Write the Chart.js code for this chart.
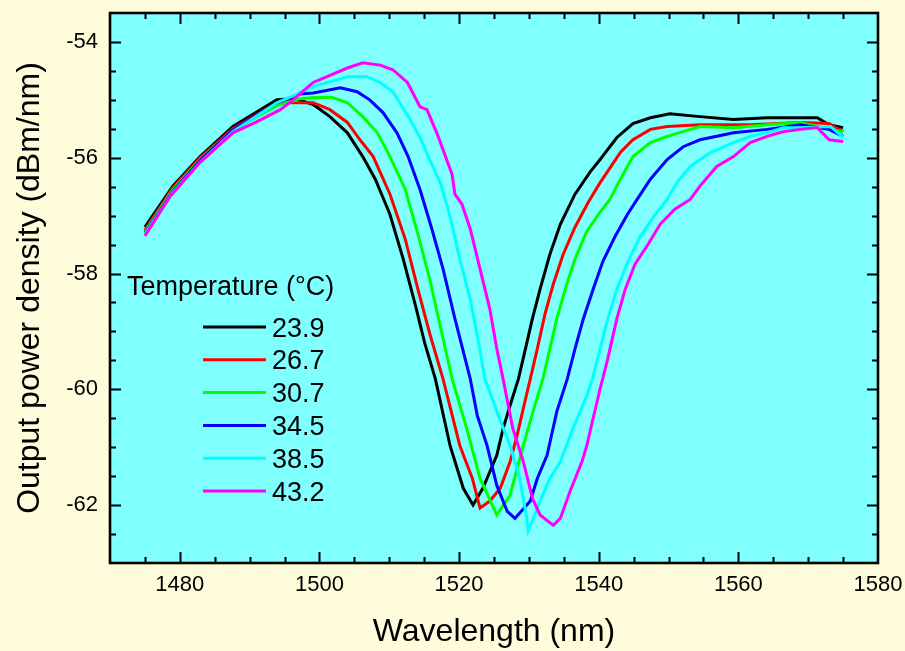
<!DOCTYPE html>
<html lang="en">
<head>
  <meta charset="UTF-8" />
  <title>Output power density vs wavelength</title>
  <script src="https://cdn.jsdelivr.net/npm/chart.js"></script>
  <style>
    html, body { margin: 0; padding: 0; background: #FFFCDC; }
    #wrap { width: 905px; height: 651px; }
  </style>
</head>
<body>
  <div id="wrap"><canvas id="spectrum" width="905" height="651"></canvas></div>

  <script>
    // temperatures (legend) and tick labels
    const temps = ['23.9', '26.7', '30.7', '34.5', '38.5', '43.2'];
    const xTickLabels = [1480, 1500, 1520, 1540, 1560, 1580];
    const yTickLabels = [-54, -56, -58, -60, -62];

    // wavelength (nm) / output power density (dBm/nm)
    const wl239 = [1475, 1479, 1482.9, 1487.6, 1493.9, 1496.5, 1499.1, 1501.5, 1504.0, 1506.2, 1508.0, 1510.1, 1512.0, 1513.7, 1515.1, 1516.6, 1518.7, 1520.6, 1522.0, 1523.4, 1525.4, 1526.3, 1527.3, 1528.5, 1529.5, 1530.5, 1531.6, 1533.0, 1534.5, 1536.6, 1538.8, 1540.2, 1542.6, 1544.9, 1547.4, 1550.2, 1554.5, 1559.3, 1564.1, 1568.9, 1571.3, 1573.0, 1575];
    const p239 = [-57.20, -56.49, -55.98, -55.46, -55.00, -54.98, -55.08, -55.29, -55.57, -55.98, -56.37, -56.98, -57.75, -58.53, -59.21, -59.82, -60.97, -61.71, -62.00, -61.71, -61.14, -60.68, -60.28, -59.82, -59.30, -58.78, -58.27, -57.67, -57.15, -56.63, -56.24, -56.03, -55.65, -55.41, -55.31, -55.24, -55.29, -55.34, -55.31, -55.31, -55.31, -55.43, -55.48];

    const wl267 = [1475, 1479, 1482.9, 1487.6, 1493.9, 1497.2, 1499.1, 1501.5, 1504.0, 1505.8, 1507.7, 1510.1, 1512.3, 1514.1, 1515.8, 1517.7, 1520.1, 1521.9, 1523.0, 1524.4, 1525.9, 1527.3, 1528.3, 1529.2, 1530.2, 1531.2, 1532.3, 1533.5, 1534.9, 1536.6, 1538.5, 1540.2, 1543.1, 1544.9, 1547.4, 1549.8, 1554.5, 1561.7, 1568.9, 1573.0, 1575];
    const p267 = [-57.25, -56.52, -56.00, -55.50, -55.05, -55.05, -55.05, -55.17, -55.39, -55.69, -55.98, -56.63, -57.41, -58.27, -59.04, -59.82, -60.97, -61.54, -62.05, -61.93, -61.71, -61.25, -60.80, -60.33, -59.82, -59.30, -58.70, -58.18, -57.67, -57.20, -56.77, -56.43, -55.91, -55.69, -55.51, -55.46, -55.43, -55.43, -55.39, -55.41, -55.55];

    const wl307 = [1475, 1479, 1482.9, 1487.6, 1493.9, 1497.2, 1499.1, 1501.9, 1504.0, 1506.2, 1508.3, 1510.1, 1512.3, 1514.1, 1515.8, 1517.4, 1519.0, 1521.1, 1523.0, 1525.4, 1527.3, 1528.3, 1529.2, 1530.6, 1532.0, 1533.0, 1534.0, 1535.2, 1536.6, 1538.3, 1540.2, 1541.6, 1543.1, 1544.9, 1547.4, 1549.8, 1554.5, 1559.3, 1564.1, 1568.9, 1573.0, 1575];
    const p307 = [-57.28, -56.55, -56.03, -55.52, -55.10, -54.98, -54.96, -54.96, -55.05, -55.29, -55.57, -55.98, -56.55, -57.32, -58.10, -58.96, -59.82, -60.68, -61.54, -62.17, -61.83, -61.37, -60.97, -60.38, -59.82, -59.30, -58.78, -58.27, -57.75, -57.27, -56.94, -56.72, -56.37, -55.98, -55.74, -55.63, -55.46, -55.48, -55.43, -55.39, -55.51, -55.55];

    const wl345 = [1475, 1479, 1482.9, 1487.6, 1493.9, 1497.2, 1499.1, 1503.0, 1505.4, 1507.2, 1509.1, 1511.1, 1512.7, 1514.4, 1516.1, 1517.7, 1519.4, 1521.6, 1522.6, 1524.0, 1525.4, 1526.9, 1528.0, 1530.2, 1531.2, 1532.6, 1534.0, 1535.5, 1536.6, 1537.8, 1539.2, 1540.6, 1542.3, 1544.1, 1545.5, 1547.4, 1549.8, 1552.1, 1554.5, 1559.3, 1564.1, 1568.9, 1573.0, 1575];
    const p345 = [-57.30, -56.58, -56.05, -55.52, -55.05, -54.90, -54.88, -54.79, -54.86, -55.00, -55.22, -55.57, -55.98, -56.55, -57.23, -57.92, -58.78, -59.82, -60.45, -60.97, -61.66, -62.11, -62.23, -61.93, -61.54, -61.14, -60.38, -59.82, -59.30, -58.78, -58.27, -57.79, -57.37, -56.98, -56.72, -56.37, -56.03, -55.81, -55.69, -55.57, -55.51, -55.43, -55.51, -55.63];

    const wl385 = [1475, 1479, 1482.9, 1487.6, 1493.9, 1497.2, 1499.1, 1504.0, 1506.8, 1508.7, 1510.5, 1512.6, 1514.4, 1515.6, 1517.4, 1518.8, 1520.1, 1521.6, 1522.7, 1523.7, 1525.4, 1527.3, 1528.7, 1529.7, 1529.9, 1531.6, 1533.0, 1534.5, 1536.3, 1538.3, 1539.1, 1540.2, 1541.3, 1542.6, 1544.2, 1545.9, 1548.1, 1549.8, 1551.2, 1553.1, 1556.0, 1559.3, 1561.7, 1564.1, 1566.4, 1568.9, 1573.2, 1575];
    const p385 = [-57.32, -56.60, -56.08, -55.55, -55.05, -54.88, -54.77, -54.60, -54.60, -54.70, -54.86, -55.26, -55.65, -55.98, -56.46, -57.06, -57.75, -58.44, -59.13, -59.82, -60.38, -60.97, -61.54, -62.23, -62.45, -61.93, -61.54, -61.25, -60.68, -60.11, -59.82, -59.30, -58.78, -58.27, -57.79, -57.37, -56.98, -56.72, -56.43, -56.15, -55.91, -55.74, -55.63, -55.57, -55.48, -55.48, -55.46, -55.65];

    const wl432 = [1475, 1478.6, 1482.9, 1487.6, 1491.0, 1494.4, 1496.2, 1499.1, 1504.0, 1506.2, 1508.7, 1510.5, 1512.6, 1514.4, 1515.4, 1516.8, 1517.7, 1519.0, 1519.4, 1520.4, 1521.6, 1523.0, 1524.4, 1525.4, 1526.3, 1527.7, 1529.2, 1530.5, 1531.6, 1533.5, 1534.5, 1535.9, 1537.6, 1538.3, 1539.2, 1540.2, 1541.3, 1542.6, 1543.8, 1545.2, 1547.1, 1548.8, 1550.9, 1553.1, 1554.5, 1556.9, 1559.3, 1561.7, 1564.1, 1566.4, 1568.9, 1571.3, 1573.0, 1575];
    const p432 = [-57.35, -56.67, -56.08, -55.57, -55.38, -55.17, -55.00, -54.70, -54.45, -54.36, -54.40, -54.48, -54.70, -55.12, -55.17, -55.57, -55.86, -56.29, -56.63, -56.80, -57.23, -57.92, -58.61, -59.30, -59.82, -60.68, -61.25, -61.88, -62.17, -62.35, -62.23, -61.76, -61.25, -60.97, -60.50, -59.99, -59.47, -58.78, -58.27, -57.84, -57.49, -57.15, -56.89, -56.72, -56.49, -56.15, -55.98, -55.74, -55.63, -55.55, -55.51, -55.48, -55.69, -55.72];

    const wavelengths = [wl239, wl267, wl307, wl345, wl385, wl432];
    const powers = [p239, p267, p307, p345, p385, p432];
    const lineColors = ['#000000', '#FF0000', '#00FF00', '#0000FF', '#00FFFF', '#FF00FF'];

    const FONT = "'Liberation Sans', Arial, sans-serif";

    const datasets = temps.map((t, i) => ({
      label: t,
      data: wavelengths[i].map((w, k) => ({ x: w, y: powers[i][k] })),
      borderColor: lineColors[i],
      borderWidth: 3,
      pointRadius: 0,
      tension: 0,
      order: temps.length - i
    }));

    // cream page, cyan plot area
    const backdrop = {
      id: 'backdrop',
      beforeDraw(chart) {
        const { ctx, chartArea: a } = chart;
        ctx.save();
        ctx.fillStyle = '#FFFCDC';
        ctx.fillRect(0, 0, chart.width, chart.height);
        ctx.fillStyle = '#80FFFF';
        ctx.fillRect(a.left, a.top, a.right - a.left, a.bottom - a.top);
        ctx.restore();
      }
    };

    // inward ticks on all four sides plus the frame
    const frame = {
      id: 'frame',
      afterDatasetsDraw(chart) {
        const { ctx, chartArea: a, scales } = chart;
        const x = scales.x, y = scales.y;
        ctx.save();
        ctx.strokeStyle = '#000';
        ctx.lineWidth = 2;
        ctx.beginPath();
        for (let v = x.min + 5; v < x.max; v += 5) {
          const px = Math.round(x.getPixelForValue(v)) + 0.5;
          const len = v % 20 === 0 ? 11 : 6;
          ctx.moveTo(px, a.bottom); ctx.lineTo(px, a.bottom - len);
          ctx.moveTo(px, a.top); ctx.lineTo(px, a.top + len);
        }
        for (let v = y.min + 0.5; v < y.max; v += 0.5) {
          const py = Math.round(y.getPixelForValue(v)) + 0.5;
          const len = Math.abs(v % 2) < 1e-6 ? 11 : 6;
          ctx.moveTo(a.left, py); ctx.lineTo(a.left + len, py);
          ctx.moveTo(a.right, py); ctx.lineTo(a.right - len, py);
        }
        ctx.stroke();
        ctx.lineWidth = 2.6;
        ctx.strokeRect(a.left, a.top, a.right - a.left, a.bottom - a.top);
        ctx.restore();
      }
    };

    // legend with title, inside the plot area
    const insideLegend = {
      id: 'insideLegend',
      afterDatasetsDraw(chart) {
        const { ctx } = chart;
        ctx.save();
        ctx.fillStyle = '#000';
        ctx.font = '27px ' + FONT;
        ctx.textBaseline = 'alphabetic';
        ctx.textAlign = 'left';
        ctx.fillText('Temperature (°C)', 127, 295);
        chart.data.datasets.forEach((ds, i) => {
          const ly = 327 + i * 32.8;
          ctx.strokeStyle = ds.borderColor;
          ctx.lineWidth = 3;
          ctx.beginPath();
          ctx.moveTo(203, ly);
          ctx.lineTo(266, ly);
          ctx.stroke();
          ctx.fillText(ds.label, 272, ly + 9.5);
        });
        ctx.restore();
      }
    };

    new Chart(document.getElementById('spectrum'), {
      type: 'line',
      data: { datasets: datasets },
      options: {
        responsive: false,
        animation: false,
        layout: { padding: { left: 0, top: 13, right: 27, bottom: 0 } },
        plugins: {
          legend: { display: false },
          tooltip: { enabled: false }
        },
        scales: {
          x: {
            type: 'linear',
            min: 1470,
            max: 1580,
            grid: { display: false, drawTicks: false },
            border: { display: false },
            afterBuildTicks: s => { s.ticks = xTickLabels.map(v => ({ value: v })); },
            afterFit: s => { s.height = 88; s.paddingLeft = 0; s.paddingRight = 0; },
            ticks: {
              color: '#000',
              padding: 9,
              maxRotation: 0,
              font: { family: FONT, size: 22 },
              callback: v => String(v)
            },
            title: {
              display: true,
              text: 'Wavelength (nm)',
              color: '#000',
              padding: { top: 5, bottom: 0 },
              font: { family: FONT, size: 32 }
            }
          },
          y: {
            type: 'linear',
            min: -63,
            max: -53.5,
            grid: { display: false, drawTicks: false },
            border: { display: false },
            afterBuildTicks: s => { s.ticks = yTickLabels.map(v => ({ value: v })); },
            afterFit: s => { s.width = 110; s.paddingTop = 0; s.paddingBottom = 0; },
            ticks: {
              color: '#000',
              padding: 12,
              font: { family: FONT, size: 22 },
              callback: v => String(v)
            },
            title: {
              display: true,
              text: 'Output power density (dBm/nm)',
              color: '#000',
              padding: { top: 11, bottom: 0 },
              font: { family: FONT, size: 32 }
            }
          }
        }
      },
      plugins: [backdrop, frame, insideLegend]
    });
  </script>
</body>
</html>
